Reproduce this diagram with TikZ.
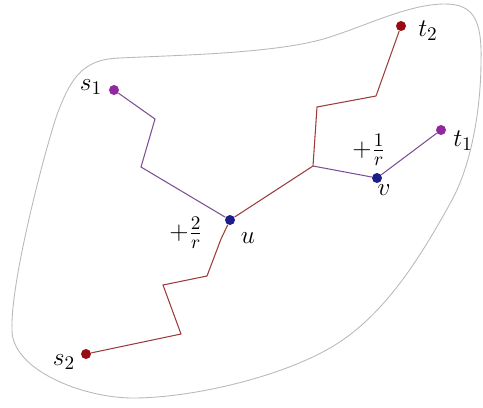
\documentclass[tikz,border=0pt]{standalone}
\usepackage{amsmath,amssymb}
\usepackage{tikz}
\usetikzlibrary{positioning}

\definecolor{termred}{RGB}{150,12,18}
\definecolor{termpurple}{RGB}{145,40,160}
\definecolor{steiner}{RGB}{28,30,140}
\definecolor{pathred}{RGB}{155,60,58}
\definecolor{pathpurple}{RGB}{125,80,150}

\begin{document}
\begin{tikzpicture}[x=0.02cm, y=-0.02cm, every node/.style={font=\fontsize{15}{18}\selectfont, inner sep=1pt},
  dot/.style={circle, inner sep=0pt, minimum size=0.2cm},
  redpath/.style={pathred, line width=0.6pt},
  purplepath/.style={pathpurple, line width=0.6pt}]
\useasboundingbox (0,0) rectangle (483,407);

% Region boundary
\draw[gray!55, line width=0.5pt] (12,330)
  .. controls (10,280) and (48.5,137) .. (58,112)
  .. controls (72,75) and (85,59) .. (120,58)
  .. controls (180,55) and (280,53.5) .. (330,37)
  .. controls (370,24) and (410,4) .. (445,4)
  .. controls (472,4) and (482,18) .. (481,60)
  .. controls (481,110) and (471,165) .. (452,200)
  .. controls (418,262) and (382,318) .. (330,348)
  .. controls (278,378) and (190,398) .. (133,398)
  .. controls (83,398) and (12,370) .. cycle;

% Terminals and Steiner points
\node[dot, fill=termpurple] (s1) at (114,90) {};
\node[dot, fill=termred] (s2) at (86,354) {};
\node[dot, fill=termpurple] (t1) at (441,130) {};
\node[dot, fill=termred] (t2) at (401,26) {};
\node[dot, fill=steiner] (u) at (230,220) {};
\node[dot, fill=steiner] (v) at (377,178) {};

% Bends
\coordinate (a1) at (155,119);
\coordinate (a2) at (141,167);
\coordinate (j) at (313,166);
\coordinate (b1) at (317,107);
\coordinate (b2) at (376,96);
\coordinate (c1) at (221,239);
\coordinate (c2) at (207,276);
\coordinate (c3) at (163,285);
\coordinate (c4) at (181,334);

% Path s2 -- t2
\draw[redpath] (s2) -- (c4) -- (c3) -- (c2) -- (c1) -- (u) -- (j) -- (b1) -- (b2) -- (t2);

% Path s1 -- t1
\draw[purplepath] (s1) -- (a1) -- (a2) -- (u);
\draw[purplepath] (j) -- (v) -- (t1);

% Labels
\node (s1lab) at (91,87) {$s_1$};
\node (s2lab) at (64,362) {$s_2$};
\node (t1lab) at (463,141) {$t_1$};
\node (t2lab) at (428,31) {$t_2$};
\node (ulab) at (248,238) {$u$};
\node (vlab) at (384,190) {$v$};
\node (ugain) at (186,233) {$+\frac{2}{r}$};
\node (vgain) at (369,150) {$+\frac{1}{r}$};

\end{tikzpicture}
\end{document}
